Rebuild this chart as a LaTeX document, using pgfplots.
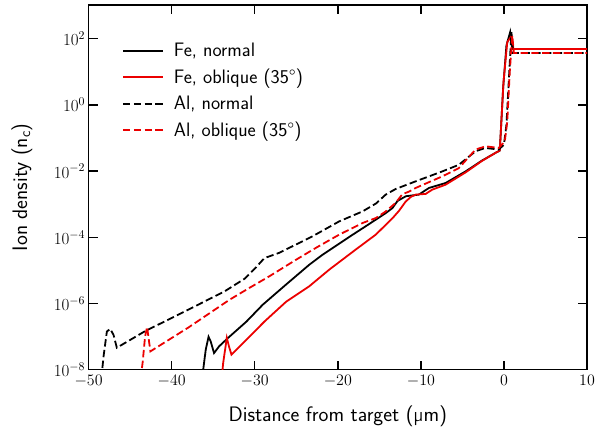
\RequirePackage{fix-cm}
\documentclass[border=0pt]{standalone}
\usepackage{fontspec}
\usepackage{pgfplots}
\pgfplotsset{compat=1.18}

\definecolor{myred}{RGB}{235,0,0}

\begin{document}
\begin{tikzpicture}
\begin{axis}[
    scale only axis,
    width=499pt, height=365pt,
    ymode=log,
    xmin=-50, xmax=10,
    ymin=1e-8, ymax=1.05e3,
    xtick={-50,-40,...,10},
    ytick={1e-8,1e-6,1e-4,1e-2,1,1e2},
    yminorticks=false,
    tick align=inside,
    xtick pos=both, ytick pos=both,
    major tick length=9pt,
    tick style={line width=1.4pt, black},
    axis line style={line width=1.6pt},
    yticklabel style={font=\fontsize{17}{19}\selectfont},
    xticklabel style={font=\fontsize{16}{18}\selectfont, yshift=-2pt},
    label style={font=\sffamily\fontsize{21}{25}\selectfont},
    xlabel={Distance from target (µm)},
    ylabel={Ion density ($\mathsf{n}_\mathsf{c}$)},
    xlabel style={at={(axis description cs:0.5,0)}, anchor=center, yshift=-47pt},
    ylabel style={at={(axis description cs:-0.134,0.5)}, anchor=center},
    legend cell align=left,
    legend style={draw=none, fill=none, at={(0.061,0.907)}, anchor=north west,
        font=\sffamily\fontsize{19.5}{23}\selectfont, row sep=7pt},
    legend image code/.code={\draw[#1] (0pt,0pt) -- (40pt,0pt); \path (48pt,0pt);},
]
% Fe, normal
\addplot[black, line width=1.8pt] coordinates {
(-36.5,2.51e-9) (-36.2,1.0e-8) (-35.9,3.98e-8) (-35.56,9.77e-8) (-35.3,7.08e-8)
(-34.9,3.16e-8) (-34.3,5.01e-8) (-33.2,9.12e-8) (-31,2.82e-7) (-29.04,9.12e-7)
(-26.23,3.72e-6) (-23.43,1.48e-5) (-21.84,2.95e-5) (-18.63,1.02e-4) (-16.23,2.51e-4)
(-14.23,5.37e-4) (-13.43,7.59e-4) (-12.8,1.26e-3) (-11.8,1.74e-3) (-10.23,1.95e-3)
(-9.03,3.09e-3) (-7.02,4.37e-3) (-4.62,9.77e-3) (-2.63,2.09e-2) (-1.02,3.55e-2)
(-0.5,4.17e-2) (-0.1,3.16) (0.3,63.1) (0.75,158.5) (1.0,49.0) (10,49.0)
};
% Fe, oblique
\addplot[myred, line width=1.8pt] coordinates {
(-34.1,2.51e-9) (-33.8,1.58e-8) (-33.36,9.12e-8) (-33.1,5.01e-8) (-32.8,2.82e-8)
(-28.8,2.88e-7) (-26.23,1.12e-6) (-23.43,3.31e-6) (-21.03,1.05e-5) (-17.83,4.27e-5)
(-15.43,1.20e-4) (-13.4,3.80e-4) (-12.63,6.31e-4) (-11.83,1.20e-3) (-11.2,1.66e-3)
(-10.63,1.95e-3) (-9.43,2.04e-3) (-8.63,2.75e-3) (-7.02,3.89e-3) (-4.62,9.12e-3)
(-2.63,2.04e-2) (-1.02,3.55e-2) (-0.5,4.17e-2) (-0.05,5.01) (0.4,79.4) (0.9,120)
(1.15,49.0) (10,49.0)
};
% Al, normal
\addplot[black, line width=1.8pt, dash pattern=on 7.4pt off 3.4pt] coordinates {
(-48.6,2.51e-9) (-48.2,2.51e-8) (-47.8,1.41e-7) (-47.4,1.70e-7) (-47.0,1.12e-7)
(-46.6,4.57e-8) (-43.2,1.45e-7) (-38.4,5.75e-7) (-33.6,2.34e-6) (-31.2,5.62e-6)
(-30.0,1.12e-5) (-28.84,2.34e-5) (-27.04,3.39e-5) (-23.04,1.07e-4) (-19.83,3.02e-4)
(-17.03,6.03e-4) (-15.4,1.05e-3) (-14.23,1.95e-3) (-13.03,2.88e-3) (-10.63,4.90e-3)
(-7.43,9.77e-3) (-5.43,1.55e-2) (-3.42,3.98e-2) (-2.22,5.01e-2) (-0.62,4.47e-2)
(0.0,6.31e-2) (0.3,0.251) (0.6,6.31) (0.9,158.5) (1.1,37.2) (10,37.2)
};
% Al, oblique
\addplot[myred, line width=1.8pt, dash pattern=on 7.4pt off 3.4pt] coordinates {
(-43.9,2.51e-9) (-43.5,1.58e-8) (-43.2,1.0e-7) (-42.96,1.95e-7) (-42.75,7.94e-8)
(-42.56,3.55e-8) (-38,1.86e-7) (-33.04,1.29e-6) (-30.64,2.95e-6) (-28.24,6.61e-6)
(-25.03,2.09e-5) (-22.63,4.79e-5) (-19.83,1.20e-4) (-17.03,2.69e-4) (-15.43,3.80e-4)
(-14.23,6.03e-4) (-13.03,1.10e-3) (-12.23,2.00e-3) (-11.43,2.40e-3) (-10.63,3.09e-3)
(-7.43,6.92e-3) (-5.43,1.23e-2) (-3.42,4.47e-2) (-2.22,5.62e-2) (-0.62,5.01e-2)
(0.1,7.94e-2) (0.4,0.316) (0.7,10) (1.0,126) (1.2,37.2) (10,37.2)
};
\legend{{Fe, normal}, {Fe, oblique (35°)}, {Al, normal}, {Al, oblique (35°)}}
\end{axis}
\pgfresetboundingbox
\useasboundingbox ([xshift=-88.7pt,yshift=-59pt]current axis.south west)
    rectangle ([xshift=9pt,yshift=5pt]current axis.north east);
\end{tikzpicture}
\end{document}
